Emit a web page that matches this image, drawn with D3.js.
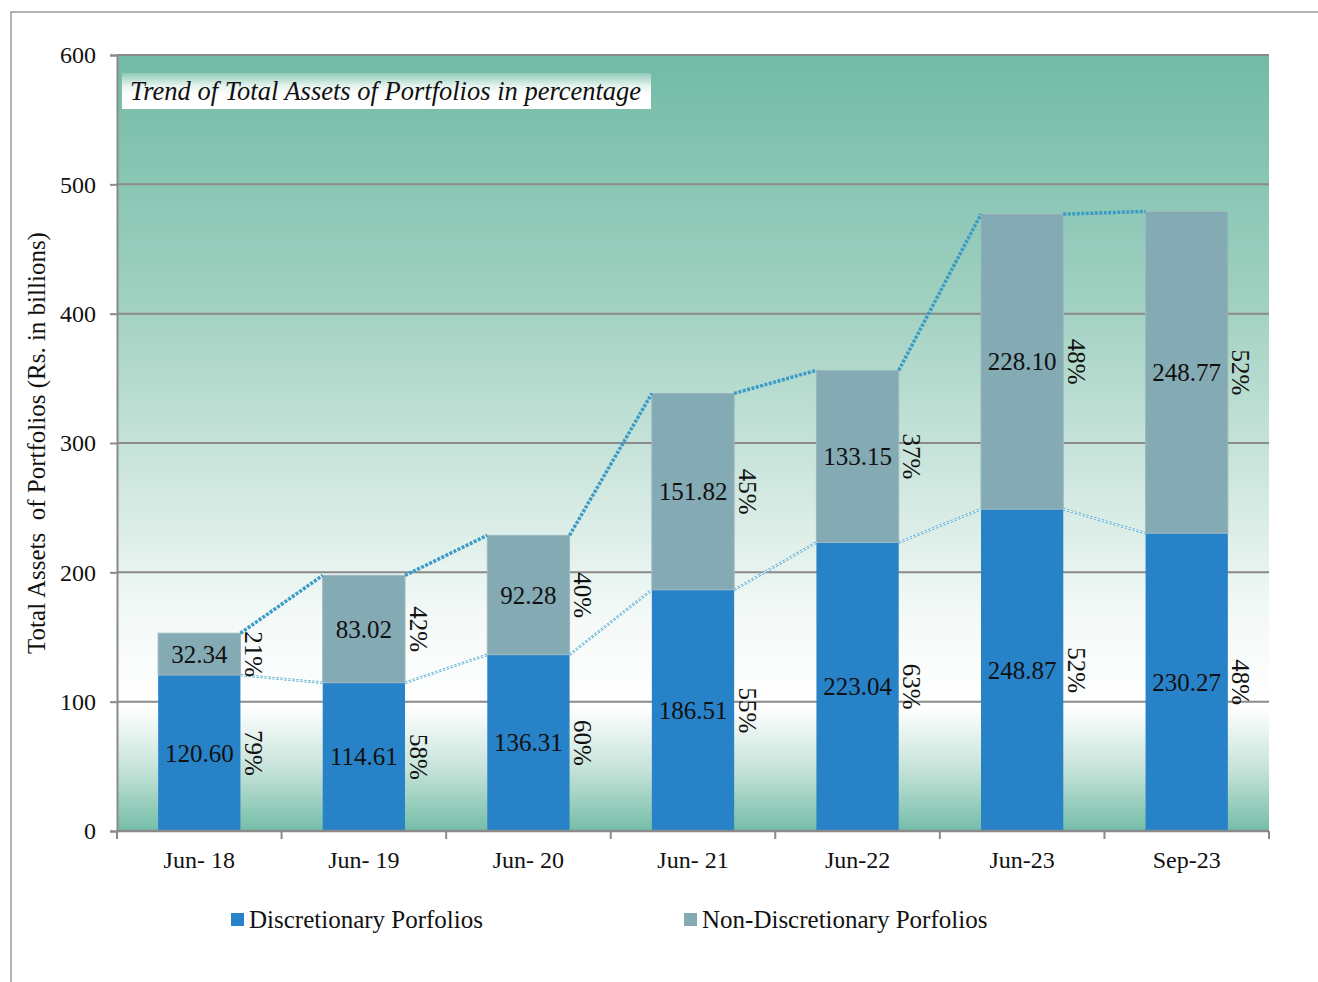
<!DOCTYPE html>
<html>
<head>
<meta charset="utf-8">
<script src="https://cdn.jsdelivr.net/npm/d3@7"></script>
<style>
  html, body { margin: 0; padding: 0; background: #fff; }
  svg { display: block; font-family: "Liberation Serif", "Times New Roman", serif; }
</style>
</head>
<body>
<svg id="chart" width="1318" height="982"></svg>
<script>
const categories = ['Jun- 18', 'Jun- 19', 'Jun- 20', 'Jun- 21', 'Jun-22', 'Jun-23', 'Sep-23'];
const discretionary = [120.60, 114.61, 136.31, 186.51, 223.04, 248.87, 230.27];
const nonDiscretionary = [32.34, 83.02, 92.28, 151.82, 133.15, 228.10, 248.77];
const discPct = ['79%', '58%', '60%', '55%', '63%', '52%', '48%'];
const nonDiscPct = ['21%', '42%', '40%', '45%', '37%', '48%', '52%'];
const yTicks = [0, 100, 200, 300, 400, 500, 600];
const seriesNames = ['Discretionary Porfolios', 'Non-Discretionary Porfolios'];

const colorDisc = '#2882c8';
const colorNon = '#84aab4';
const lineColor = '#3b9bc8';

const svg = d3.select('#chart');
const plot = { left: 117, right: 1269, top: 55, bottom: 831 };

// outer frame
svg.append('path')
  .attr('d', 'M11,982 L11,12 L1318,12')
  .attr('fill', 'none')
  .attr('stroke', '#9a9a9a')
  .attr('stroke-width', 1.5);

const defs = svg.append('defs');
const bg = defs.append('linearGradient')
  .attr('id', 'bg')
  .attr('x1', 0).attr('y1', 0).attr('x2', 0).attr('y2', 1);
[[0, '#72bba6'], [0.3, '#9dcfbf'], [0.55, '#cfe7df'], [0.72, '#f3f9f7'], [0.84, '#ffffff'], [0.92, '#c6e3d9'], [1, '#74bda8']]
  .forEach(([o, c]) => bg.append('stop').attr('offset', o).attr('stop-color', c));

const titleGrad = defs.append('linearGradient')
  .attr('id', 'titleGrad')
  .attr('x1', 0).attr('y1', 0).attr('x2', 0).attr('y2', 1);
[[0, '#8fcab8'], [0.35, '#e4f2ed'], [0.6, '#ffffff'], [1, '#ffffff']]
  .forEach(([o, c]) => titleGrad.append('stop').attr('offset', o).attr('stop-color', c));

const x = d3.scaleBand()
  .domain(categories)
  .range([plot.left, plot.right])
  .paddingInner(0.5)
  .paddingOuter(0.25);

const y = d3.scaleLinear()
  .domain([0, 600])
  .range([plot.bottom, plot.top]);

svg.append('rect')
  .attr('x', plot.left).attr('y', plot.top)
  .attr('width', plot.right - plot.left).attr('height', plot.bottom - plot.top)
  .attr('fill', 'url(#bg)');

// gridlines
svg.append('g')
  .selectAll('line')
  .data(yTicks.filter(d => d > 0))
  .join('line')
  .attr('x1', plot.left).attr('x2', plot.right)
  .attr('y1', d => y(d)).attr('y2', d => y(d))
  .attr('stroke', '#8a8a8a')
  .attr('stroke-width', 2);

// title box
svg.append('rect')
  .attr('x', 122).attr('y', 73).attr('width', 529).attr('height', 36)
  .attr('fill', 'url(#titleGrad)');
svg.append('text')
  .attr('x', 130).attr('y', 100)
  .attr('font-size', 26.5)
  .attr('font-style', 'italic')
  .attr('fill', '#111')
  .text('Trend of Total Assets of Portfolios in percentage');

const data = categories.map((c, i) => ({
  cat: c,
  disc: discretionary[i],
  non: nonDiscretionary[i],
  total: discretionary[i] + nonDiscretionary[i],
  discPct: discPct[i],
  nonPct: nonDiscPct[i]
}));

// bars
const bars = svg.append('g');
bars.selectAll('rect.disc')
  .data(data)
  .join('rect')
  .attr('class', 'disc')
  .attr('x', d => x(d.cat))
  .attr('width', x.bandwidth())
  .attr('y', d => y(d.disc))
  .attr('height', d => y(0) - y(d.disc))
  .attr('fill', colorDisc);

bars.selectAll('rect.non')
  .data(data)
  .join('rect')
  .attr('class', 'non')
  .attr('x', d => x(d.cat))
  .attr('width', x.bandwidth())
  .attr('y', d => y(d.total))
  .attr('height', d => y(d.disc) - y(d.total))
  .attr('fill', colorNon)
  .attr('stroke', '#9db8bf')
  .attr('stroke-width', 1);

// series lines connecting bar tops
const connectors = (key) => d3.pairs(data).map(([a, b]) => ({
  x1: x(a.cat) + x.bandwidth(), y1: y(a[key]),
  x2: x(b.cat), y2: y(b[key])
}));

const lines = svg.append('g');
lines.selectAll('line.top')
  .data(connectors('total'))
  .join('line')
  .attr('x1', d => d.x1).attr('y1', d => d.y1)
  .attr('x2', d => d.x2).attr('y2', d => d.y2)
  .attr('stroke', lineColor)
  .attr('stroke-width', 3.5)
  .attr('stroke-dasharray', '3,1.5');

lines.selectAll('line.low')
  .data(connectors('disc'))
  .join('line')
  .attr('x1', d => d.x1).attr('y1', d => d.y1)
  .attr('x2', d => d.x2).attr('y2', d => d.y2)
  .attr('stroke', '#5aaed4')
  .attr('stroke-width', 2.6)
  .attr('stroke-dasharray', '2.5,1.5');
lines.selectAll('line.lowInner')
  .data(connectors('disc'))
  .join('line')
  .attr('x1', d => d.x1).attr('y1', d => d.y1)
  .attr('x2', d => d.x2).attr('y2', d => d.y2)
  .attr('stroke', '#ffffff')
  .attr('stroke-width', 0.8);

// value labels
const labels = svg.append('g').attr('font-size', 25).attr('fill', '#111');
labels.selectAll('text.vd')
  .data(data)
  .join('text')
  .attr('x', d => x(d.cat) + x.bandwidth() / 2)
  .attr('y', d => (y(0) + y(d.disc)) / 2)
  .attr('text-anchor', 'middle')
  .attr('dominant-baseline', 'central')
  .text(d => d.disc.toFixed(2));

labels.selectAll('text.vn')
  .data(data)
  .join('text')
  .attr('x', d => x(d.cat) + x.bandwidth() / 2)
  .attr('y', d => (y(d.disc) + y(d.total)) / 2)
  .attr('text-anchor', 'middle')
  .attr('dominant-baseline', 'central')
  .text(d => d.non.toFixed(2));

// rotated percentage labels
labels.selectAll('text.pd')
  .data(data)
  .join('text')
  .attr('text-anchor', 'middle')
  .attr('dominant-baseline', 'central')
  .attr('transform', d => `translate(${x(d.cat) + x.bandwidth() + 13},${(y(0) + y(d.disc)) / 2}) rotate(90)`)
  .text(d => d.discPct);

labels.selectAll('text.pn')
  .data(data)
  .join('text')
  .attr('text-anchor', 'middle')
  .attr('dominant-baseline', 'central')
  .attr('transform', d => `translate(${x(d.cat) + x.bandwidth() + 13},${(y(d.disc) + y(d.total)) / 2}) rotate(90)`)
  .text(d => d.nonPct);

// axes
const axisY = svg.append('g')
  .attr('transform', `translate(${plot.left},0)`)
  .call(d3.axisLeft(y).tickValues(yTicks).tickSize(7).tickPadding(14));
axisY.select('.domain').attr('stroke', '#8a8a8a').attr('stroke-width', 2);
axisY.selectAll('.tick line').attr('stroke', '#8a8a8a').attr('stroke-width', 2);
axisY.selectAll('.tick text')
  .attr('font-family', '"Liberation Serif", serif')
  .attr('font-size', 24)
  .attr('fill', '#111');

const xBounds = d3.range(categories.length + 1).map(i => plot.left + i * x.step());
const axisX = svg.append('g');
axisX.append('line')
  .attr('x1', plot.left).attr('x2', plot.right)
  .attr('y1', y(0)).attr('y2', y(0))
  .attr('stroke', '#8a8a8a').attr('stroke-width', 2.5);
axisX.selectAll('line.tick')
  .data(xBounds)
  .join('line')
  .attr('x1', d => d).attr('x2', d => d)
  .attr('y1', y(0)).attr('y2', y(0) + 8)
  .attr('stroke', '#8a8a8a').attr('stroke-width', 2);
axisX.selectAll('text')
  .data(categories)
  .join('text')
  .attr('x', d => x(d) + x.bandwidth() / 2)
  .attr('y', 868)
  .attr('text-anchor', 'middle')
  .attr('font-size', 24)
  .attr('fill', '#111')
  .text(d => d);

// y title
svg.append('text')
  .attr('transform', `translate(45,443) rotate(-90)`)
  .attr('text-anchor', 'middle')
  .attr('font-size', 25)
  .attr('fill', '#111')
  .style('white-space', 'pre')
  .text('Total Assets  of Portfolios (Rs. in billions)');

// legend
const legendPos = [231, 684];
const legend = svg.append('g');
legend.selectAll('rect')
  .data(seriesNames)
  .join('rect')
  .attr('x', (d, i) => legendPos[i])
  .attr('y', 913)
  .attr('width', 13).attr('height', 13)
  .attr('fill', (d, i) => i === 0 ? colorDisc : colorNon);
legend.selectAll('text')
  .data(seriesNames)
  .join('text')
  .attr('x', (d, i) => legendPos[i] + 18)
  .attr('y', 928)
  .attr('font-size', 25)
  .attr('fill', '#111')
  .text(d => d);
</script>
</body>
</html>
